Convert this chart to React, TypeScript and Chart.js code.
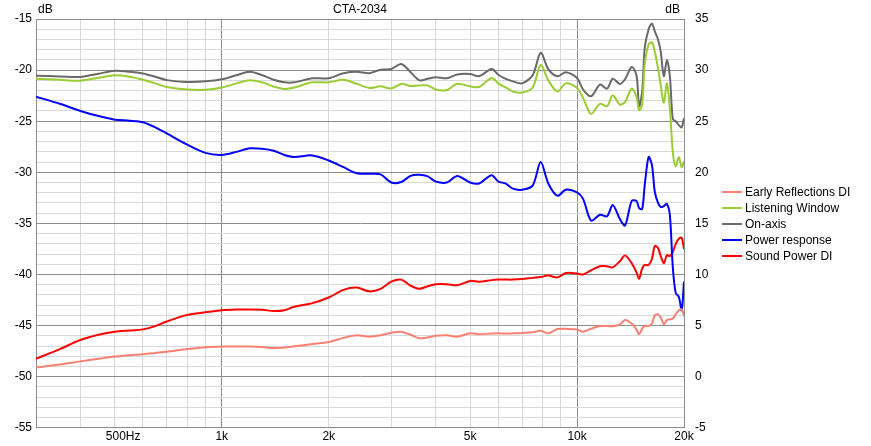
import { useEffect, useRef } from 'react';
import { Chart, registerables } from 'chart.js';
Chart.register(...registerables);

const FONT = '"Liberation Sans", Arial, sans-serif';

// frequencies (Hz)
const freqs = [
  300, 350, 400, 450, 500, 550, 600, 650, 700, 800,
  900, 1000, 1100, 1200, 1300, 1400, 1500, 1600, 1800, 2000,
  2200, 2400, 2600, 2800, 3000, 3200, 3400, 3600, 3800, 4000,
  4300, 4600, 5000, 5300, 5750, 6000, 6300, 6600, 7000, 7500,
  7900, 8300, 8800, 9300, 10000, 10400, 10950, 11600, 12150, 12600,
  13200, 13650, 14250, 14700, 14950, 15250, 15500, 15900, 16250, 16550,
  16900, 17200, 17550, 17900, 18250, 18600, 18950, 19350, 19700, 20000,
];

// left axis (dB)
const onAxis = [
  -20.55, -20.62, -20.67, -20.35, -20.06, -20.15, -20.33, -20.65, -20.98, -21.16,
  -21.1, -20.9, -20.5, -20.16, -20.5, -20.95, -21.2, -21.2, -20.8, -20.8,
  -20.3, -20.16, -20.3, -19.96, -19.9, -19.4, -20.2, -21.0, -20.85, -20.7,
  -20.8, -20.42, -20.38, -20.6, -19.9, -20.45, -20.85, -21.1, -21.3, -20.5,
  -18.3, -19.9, -20.6, -20.2, -20.77, -21.9, -22.56, -21.42, -21.81, -20.84,
  -21.36, -20.9, -19.7, -20.5, -23.53, -22.07, -17.86, -16.0, -15.45, -16.2,
  -17.0, -18.18, -20.6, -19.0, -20.6, -24.8, -25.0, -25.4, -25.6, -24.7,
];
const listeningWindow = [
  -20.84, -20.95, -21.03, -20.75, -20.51, -20.65, -20.94, -21.3, -21.65, -21.9,
  -21.92, -21.7, -21.3, -21.0, -21.2, -21.6, -21.84, -21.7, -21.2, -21.2,
  -20.95, -21.35, -21.75, -21.59, -21.8, -21.35, -21.55, -21.5, -21.5, -21.9,
  -21.95, -21.33, -21.59, -21.65, -20.77, -21.3, -21.7, -22.1, -22.2, -21.7,
  -19.5, -21.0, -22.1, -21.3, -21.75, -22.72, -24.28, -23.3, -23.53, -22.46,
  -23.37, -23.1, -21.81, -22.6, -23.92, -23.37, -19.48, -17.5, -17.3, -18.2,
  -19.8, -21.5, -23.2, -21.3, -23.8, -28.0, -29.4, -28.5, -29.5, -28.9,
];
const powerResponse = [
  -22.6, -23.3, -24.0, -24.5, -24.85, -24.95, -25.1, -25.6, -26.2, -27.3,
  -28.1, -28.3, -28.0, -27.65, -27.7, -27.9, -28.3, -28.5, -28.35, -28.85,
  -29.5, -30.1, -30.15, -30.2, -31.0, -30.95, -30.35, -30.25, -30.4, -30.9,
  -31.0, -30.35, -31.0, -31.09, -30.28, -30.9, -31.1, -31.6, -31.7, -31.3,
  -29.0, -31.1, -32.3, -31.7, -31.97, -32.6, -34.73, -34.15, -34.3, -33.2,
  -34.56, -35.2, -32.8, -32.8, -33.5, -33.6, -31.3, -28.5, -29.3, -31.9,
  -33.0, -33.4, -33.3, -33.1, -34.2, -39.3, -41.8, -42.2, -43.5, -40.7,
];

// right axis (dB)
const soundPowerDI = [
  1.75, 2.7, 3.59, 4.1, 4.4, 4.52, 4.63, 4.95, 5.4, 6.05,
  6.3, 6.51, 6.58, 6.58, 6.55, 6.42, 6.5, 6.84, 7.2, 7.75,
  8.5, 8.72, 8.35, 8.6, 9.3, 9.5, 8.9, 8.6, 8.85, 9.05,
  9.05, 8.95, 9.37, 9.3, 9.45, 9.5, 9.5, 9.5, 9.55, 9.67,
  9.75, 9.9, 9.7, 10.15, 10.1, 10.0, 10.4, 10.8, 10.8, 10.7,
  11.3, 11.87, 11.1, 10.2, 9.6, 10.6, 10.93, 10.93, 11.54, 12.8,
  12.6, 11.8, 11.1, 11.9, 11.8, 12.2, 13.0, 13.5, 13.6, 12.5,
];
const earlyReflectionsDI = [
  0.9, 1.2, 1.5, 1.75, 1.97, 2.1, 2.2, 2.33, 2.45, 2.7,
  2.88, 2.95, 2.96, 2.95, 2.9, 2.8, 2.85, 2.97, 3.2, 3.4,
  3.8, 4.05, 3.92, 4.05, 4.3, 4.4, 4.1, 3.76, 3.85, 4.0,
  4.05, 3.92, 4.24, 4.15, 4.22, 4.24, 4.22, 4.24, 4.28, 4.35,
  4.5, 4.24, 4.66, 4.68, 4.63, 4.4, 4.7, 4.96, 4.95, 4.93,
  5.12, 5.55, 5.2, 4.6, 4.15, 4.7, 4.96, 4.96, 5.2, 6.0,
  6.1, 5.8, 5.12, 5.55, 5.6, 5.7, 6.1, 6.5, 6.6, 5.93,
];

const xGrid = [300, 400, 500, 600, 700, 800, 900, 1000, 2000, 3000, 4000, 5000, 6000, 7000, 8000, 9000, 10000, 20000];
const xMajor = [1000, 10000, 20000];
const xLabelValues = [500, 1000, 2000, 5000, 10000, 20000];
// leading spaces keep "500" over its grid line, as in the original
const xLabelTexts = ['     500Hz', '1k', '2k', '5k', '10k', '20k'];

const legendNames = ['Early Reflections DI', 'Listening Window', 'On-axis', 'Power response', 'Sound Power DI'];
const legendColors = ['#FA8072', '#9ACD32', '#696969', '#0000FF', '#FF0000'];

const MAJOR = '#8c8c8c';
const MINOR = '#d9d9d9';

const textPlugin = {
  id: 'cornerText',
  afterDraw(chart: any) {
    const { ctx, chartArea } = chart;
    ctx.save();
    ctx.font = `12px ${FONT}`;
    ctx.fillStyle = '#000';
    ctx.textBaseline = 'middle';
    ctx.textAlign = 'center';
    ctx.fillText('CTA-2034', (chartArea.left + chartArea.right) / 2, 10);
    ctx.textAlign = 'left';
    ctx.fillText('dB', chartArea.left + 2, 10);
    ctx.textAlign = 'right';
    ctx.fillText('dB', chartArea.right - 4, 10);
    ctx.restore();
  },
};

function series(label: string, values: number[], color: string, axis: string) {
  return {
    label,
    data: freqs.map((f, i) => ({ x: f, y: values[i] })),
    borderColor: color,
    backgroundColor: color,
    borderWidth: 2,
    pointRadius: 0,
    tension: 0.3,
    yAxisID: axis,
  };
}

export default function App() {
  const canvasRef = useRef<HTMLCanvasElement>(null);

  useEffect(() => {
    document.body.style.margin = '0';
    const chart = new Chart(canvasRef.current!, {
      type: 'line',
      data: {
        datasets: [
          series('Early Reflections DI', earlyReflectionsDI, legendColors[0], 'y2'),
          series('Listening Window', listeningWindow, legendColors[1], 'y'),
          series('On-axis', onAxis, legendColors[2], 'y'),
          series('Power response', powerResponse, legendColors[3], 'y'),
          series('Sound Power DI', soundPowerDI, legendColors[4], 'y2'),
        ] as any,
      },
      options: {
        responsive: false,
        animation: false,
        events: [],
        layout: { padding: { top: 19, left: 0, right: 0, bottom: 0 } },
        plugins: { legend: { display: false }, tooltip: { enabled: false } },
        scales: {
          x: {
            type: 'logarithmic',
            min: 300,
            max: 20000,
            afterBuildTicks: (s: any) => { s.ticks = xGrid.map(v => ({ value: v })); },
            afterFit: (s: any) => { s.height = 16; },
            ticks: {
              autoSkip: false,
              maxRotation: 0,
              padding: 2,
              color: '#000',
              font: { family: FONT, size: 12 },
              callback: (v: any) => {
                const i = xLabelValues.indexOf(Number(v));
                return i >= 0 ? xLabelTexts[i] : '';
              },
            },
            grid: {
              color: (c: any) => (xMajor.includes(c.tick?.value) ? MAJOR : MINOR),
              drawTicks: false,
            },
            border: { display: true, color: MAJOR },
          },
          y: {
            type: 'linear',
            position: 'left',
            min: -55,
            max: -15,
            afterFit: (s: any) => { s.width = 36; },
            ticks: {
              stepSize: 1,
              autoSkip: false,
              padding: 4,
              color: '#000',
              font: { family: FONT, size: 12 },
              callback: (v: any) => (Number(v) % 5 === 0 ? String(v) : ''),
            },
            grid: {
              color: (c: any) => (c.tick?.value % 5 === 0 ? MAJOR : MINOR),
              drawTicks: false,
            },
            border: { display: true, color: MAJOR },
          },
          y2: {
            type: 'linear',
            position: 'right',
            min: -5,
            max: 35,
            afterFit: (s: any) => { s.width = 187; },
            ticks: {
              stepSize: 1,
              autoSkip: false,
              padding: 11,
              color: '#000',
              font: { family: FONT, size: 12 },
              callback: (v: any) => (Number(v) % 5 === 0 ? String(v) : ''),
            },
            grid: { display: false, drawTicks: false },
            border: { display: true, color: MAJOR },
          },
        },
      } as any,
      plugins: [textPlugin],
    });
    return () => { chart.destroy(); };
  }, []);

  return (
    <div style={{ position: 'relative', width: 871, height: 446, background: '#fff' }}>
      <canvas ref={canvasRef} width={871} height={446} />
      <div style={{ position: 'absolute', left: 722, top: 184, fontFamily: FONT, fontSize: 12, color: '#000' }}>
        {legendNames.map((name, i) => (
          <div key={name} style={{ display: 'flex', alignItems: 'center', height: 16 }}>
            <span style={{ display: 'inline-block', width: 20, height: 2, background: legendColors[i], marginRight: 3 }} />
            <span>{name}</span>
          </div>
        ))}
      </div>
    </div>
  );
}
